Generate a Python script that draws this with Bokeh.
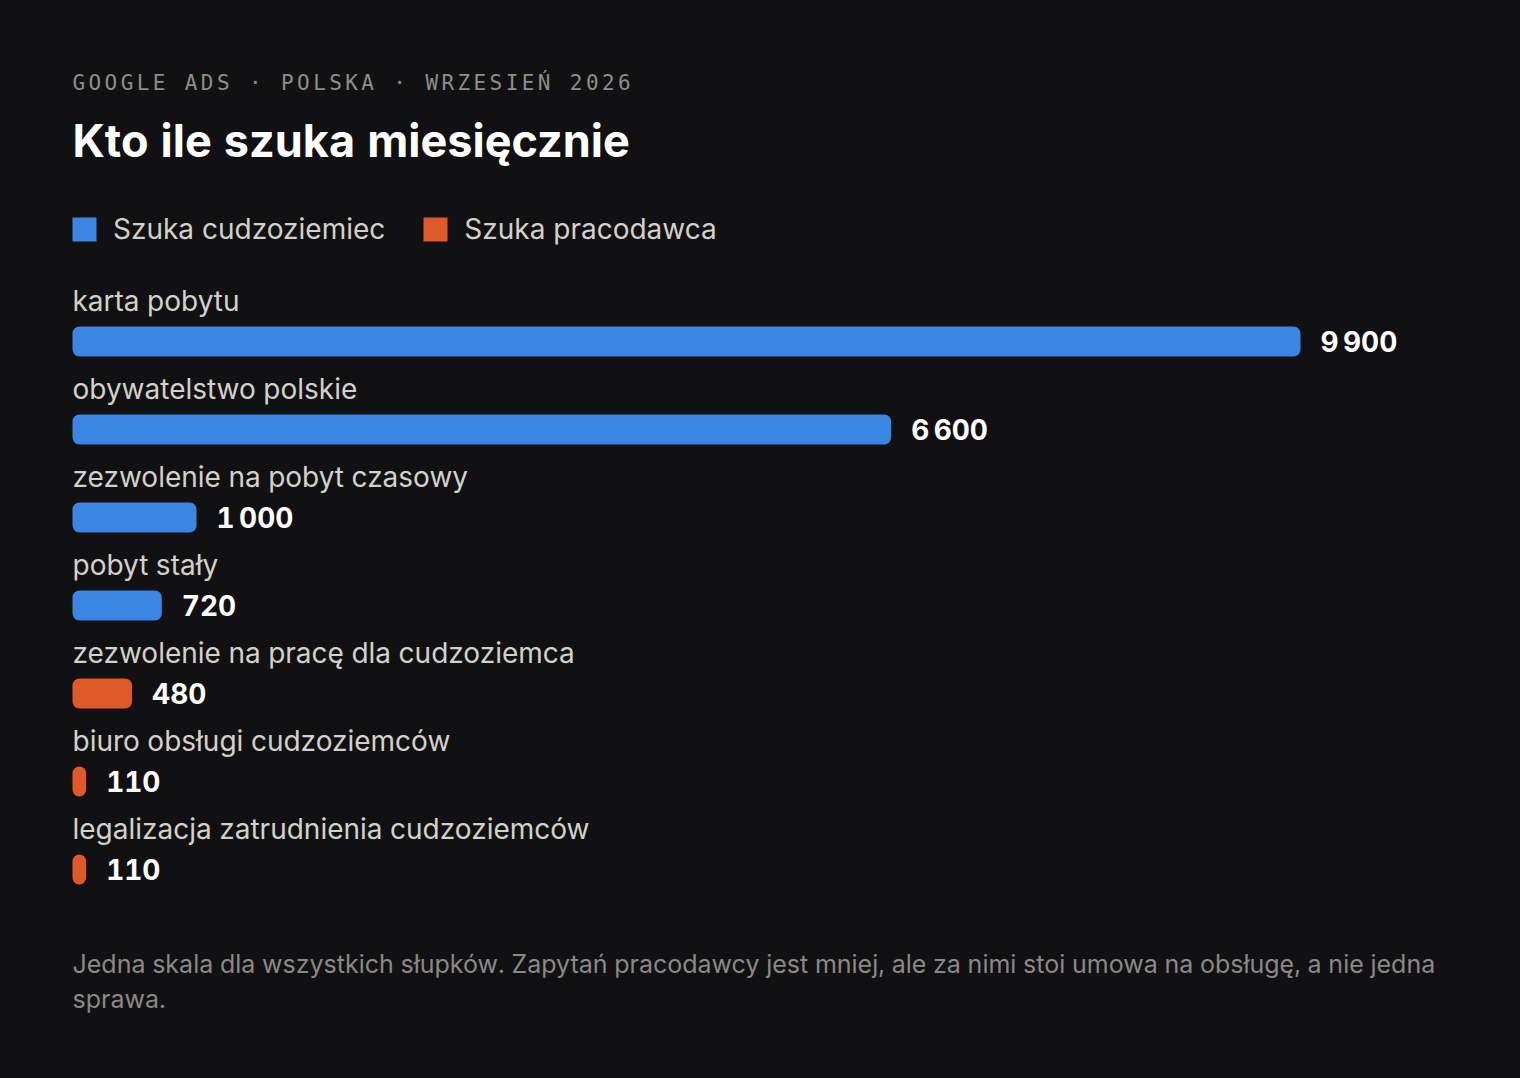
from bokeh.plotting import figure
from bokeh.models import (ColumnDataSource, Range1d, Label, Legend, LegendItem,
                          InlineStyleSheet)
from bokeh.layouts import column
from bokeh.core.properties import value
from bokeh.embed import file_html
from bokeh.resources import INLINE

# ---------------- data ----------------
categories = [
    "karta pobytu",
    "obywatelstwo polskie",
    "zezwolenie na pobyt czasowy",
    "pobyt stały",
    "zezwolenie na pracę dla cudzoziemca",
    "biuro obsługi cudzoziemców",
    "legalizacja zatrudnienia cudzoziemców",
]
searches = [9900, 6600, 1000, 720, 480, 110, 110]
value_labels = ["9\u2009900", "6\u2009600", "1\u2009000", "720", "480", "110", "110"]
segments = ["Szuka cudzoziemiec"] * 4 + ["Szuka pracodawca"] * 3
series_names = ["Szuka cudzoziemiec", "Szuka pracodawca"]

kicker = "GOOGLE ADS · POLSKA · WRZESIEŃ 2026"
title = "Kto ile szuka miesięcznie"
note_lines = [
    "Jedna skala dla wszystkich słupków. Zapytań pracodawcy jest mniej, ale za nimi stoi umowa na obsługę, a nie jedna",
    "sprawa.",
]

# ---------------- style ----------------
BG = "#111113"
COLORS = {"Szuka cudzoziemiec": "#3a86e2", "Szuka pracodawca": "#df5a28"}
LABEL_C = "#d3d1ca"
MUTED = "#8a8985"
FONT = "Inter"

W = 1504
HEAD_H = 100
H = 962
LEFT_PX = 72          # pixel of value 0
MAX_BAR_PX = 1228     # pixel length of the largest bar
ROW_PX = 88
FIRST_ROW_PX = 241    # centre of first bar from top of main figure
BAR_PX = 30

# ---------------- header figure (letter-spaced kicker) ----------------
head = figure(width=W, height=HEAD_H, output_backend="svg", toolbar_location=None,
              x_axis_type=None, y_axis_type=None, min_border=0,
              x_range=Range1d(0, W), y_range=Range1d(0, HEAD_H))
head.background_fill_color = BG
head.border_fill_color = BG
head.outline_line_color = None
head.grid.visible = False
head.stylesheets = [InlineStyleSheet(css=":host{letter-spacing:3.4px;}")]
head.add_layout(Label(x=LEFT_PX, y=18, x_units="screen", y_units="screen", text=kicker,
                      text_font="DejaVu Sans Mono", text_font_size="21px",
                      text_color="#8f8e88", text_baseline="alphabetic"))

# ---------------- main figure ----------------
px_per_unit = MAX_BAR_PX / max(searches)
x_range = Range1d(-LEFT_PX / px_per_unit, (W - LEFT_PX) / px_per_unit)
y_range = Range1d((H - FIRST_ROW_PX) / ROW_PX, -FIRST_ROW_PX / ROW_PX)

p = figure(width=W, height=H, output_backend="svg", toolbar_location=None,
           x_axis_type=None, y_axis_type=None, min_border=0,
           x_range=x_range, y_range=y_range)
p.background_fill_color = BG
p.border_fill_color = BG
p.outline_line_color = None
p.grid.visible = False
p.stylesheets = [InlineStyleSheet(css=":host{font-variant-numeric:tabular-nums;font-feature-settings:'tnum' 1;}")]

rows = list(range(len(categories)))
src_all = ColumnDataSource(dict(row=rows, category=categories, v=searches,
                                label=value_labels, seg=segments))

renderers = {}
for name in series_names:
    idx = [i for i, s in enumerate(segments) if s == name]
    src = ColumnDataSource(dict(row=[rows[i] for i in idx], v=[searches[i] for i in idx]))
    renderers[name] = p.hbar(y="row", left=0, right="v", height=BAR_PX / ROW_PX,
                             source=src, fill_color=COLORS[name], line_color=None,
                             border_radius=7)

p.text(x=0, y="row", text="category", source=src_all, text_font=value(FONT),
       text_font_size="28px", text_color=LABEL_C, text_baseline="alphabetic",
       y_offset=-41)
p.text(x="v", y="row", text="label", source=src_all, text_font=value(FONT),
       text_font_size="28px", text_font_style="bold", text_color="#ffffff",
       text_baseline="alphabetic", x_offset=20, y_offset=0)

p.add_layout(Label(x=LEFT_PX, y=922, x_units="screen", y_units="screen", text=title,
                   text_font=FONT, text_font_size="45px", text_font_style="bold",
                   text_color="#ffffff", text_baseline="alphabetic"))

legend = Legend(items=[LegendItem(label=n, renderers=[renderers[n]]) for n in series_names],
                orientation="horizontal", location=(LEFT_PX - 3, 816),
                glyph_width=30, glyph_height=30, label_height=30, label_standoff=14,
                spacing=35, padding=0, margin=0, border_line_color=None,
                background_fill_alpha=0, label_text_font=FONT,
                label_text_font_size="28px", label_text_color=LABEL_C)
p.add_layout(legend)

for k, line in enumerate(note_lines):
    p.add_layout(Label(x=LEFT_PX, y=99 - 35 * k, x_units="screen", y_units="screen",
                       text=line, text_font=FONT, text_font_size="25px",
                       text_color=MUTED, text_baseline="alphabetic"))

layout = column(head, p, spacing=0)
html = file_html(layout, INLINE, title="Kto ile szuka miesięcznie")
html = html.replace("<head>", "<head><style>html,body{background:%s;}</style>" % BG, 1)
open("out.html", "w").write(html)
